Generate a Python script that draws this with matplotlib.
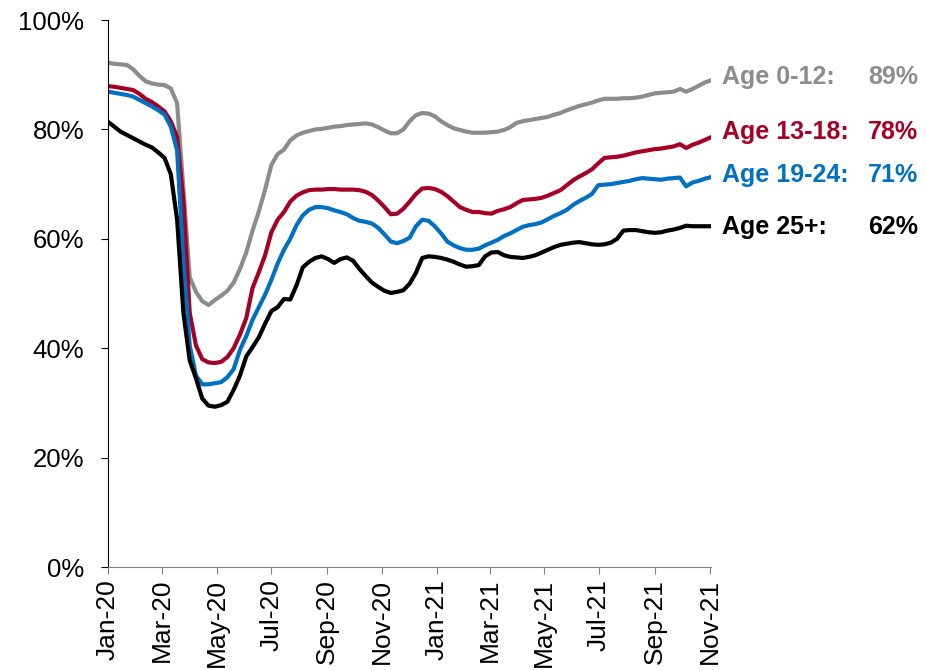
import matplotlib
matplotlib.use("Agg")
import matplotlib.pyplot as plt
import matplotlib.dates as mdates
import matplotlib.transforms as mtransforms
import pandas as pd

plt.rcParams['font.family'] = ['Liberation Sans', 'DejaVu Sans']

# weekly points, Jan 2020 - Nov 2021
dates = pd.date_range('2020-01-01', periods=97, freq='7D')

age_0_12 = [92.2, 92.0, 91.9, 91.8, 91.0, 89.8, 88.8, 88.4, 88.2, 88.1,
            87.5, 84.8, 69.0, 53.0, 50.3, 48.6, 47.9, 48.8, 49.6, 50.5,
            52.0, 54.5, 57.5, 61.5, 65.0, 69.0, 73.5, 75.5, 76.3, 78.0,
            78.9, 79.4, 79.7, 80.0, 80.1, 80.3, 80.5, 80.6, 80.8, 80.9,
            81.0, 81.1, 80.9, 80.4, 79.8, 79.3, 79.3, 80.0, 81.5, 82.6,
            83.0, 82.9, 82.4, 81.5, 80.8, 80.2, 79.9, 79.6, 79.4, 79.4,
            79.4, 79.5, 79.6, 79.9, 80.4, 81.2, 81.5, 81.7, 81.9, 82.1,
            82.3, 82.7, 83.0, 83.5, 83.9, 84.3, 84.6, 84.9, 85.3, 85.6,
            85.6, 85.6, 85.7, 85.7, 85.8, 86.0, 86.3, 86.6, 86.7, 86.8,
            86.9, 87.4, 86.9, 87.4, 88.0, 88.6, 89.0]

age_13_18 = [87.9, 87.8, 87.6, 87.4, 87.2, 86.5, 85.6, 85.0, 84.2, 83.3,
             81.5, 78.6, 67.0, 46.5, 40.5, 38.0, 37.4, 37.3, 37.5, 38.4,
             40.0, 42.5, 45.5, 51.0, 53.9, 57.0, 61.2, 63.5, 64.9, 66.8,
             67.9, 68.5, 68.9, 69.0, 69.0, 69.1, 69.1, 69.0, 69.0, 69.0,
             68.9, 68.6, 68.0, 67.0, 65.8, 64.5, 64.6, 65.5, 66.8, 68.2,
             69.2, 69.3, 69.1, 68.6, 67.8, 66.8, 65.8, 65.3, 64.9, 64.9,
             64.7, 64.6, 65.1, 65.4, 65.8, 66.5, 67.1, 67.2, 67.3, 67.5,
             67.9, 68.4, 68.9, 69.8, 70.7, 71.4, 72.0, 72.7, 73.8, 74.8,
             74.9, 75.0, 75.2, 75.5, 75.8, 76.0, 76.2, 76.4, 76.5, 76.7,
             76.9, 77.3, 76.6, 77.2, 77.6, 78.1, 78.6]

age_19_24 = [86.9, 86.7, 86.5, 86.3, 86.0, 85.4, 84.8, 84.2, 83.5, 82.7,
             80.5, 76.2, 56.0, 40.5, 35.0, 33.4, 33.4, 33.6, 33.8, 34.7,
             36.2, 39.7, 42.2, 45.2, 47.5, 49.8, 52.5, 55.5, 58.0, 60.0,
             62.5, 64.3, 65.3, 65.8, 65.8, 65.6, 65.2, 64.9, 64.5, 63.8,
             63.3, 63.1, 62.8, 62.0, 60.8, 59.5, 59.2, 59.6, 60.2, 62.3,
             63.5, 63.3, 62.3, 61.0, 59.5, 58.8, 58.3, 58.0, 58.0, 58.2,
             58.8, 59.3, 59.8, 60.5, 61.0, 61.6, 62.2, 62.5, 62.7, 63.0,
             63.6, 64.2, 64.7, 65.3, 66.2, 66.9, 67.5, 68.2, 69.8, 69.9,
             70.0, 70.2, 70.4, 70.6, 70.9, 71.1, 71.0, 70.9, 70.8, 71.0,
             71.1, 71.2, 69.6, 70.3, 70.6, 71.0, 71.3]

age_25_plus = [81.4, 80.5, 79.6, 79.0, 78.4, 77.8, 77.2, 76.7, 75.8, 74.8,
               71.8, 63.5, 46.5, 37.8, 34.5, 30.8, 29.5, 29.3, 29.6, 30.2,
               32.4, 35.0, 38.5, 40.2, 42.0, 44.5, 46.8, 47.5, 49.0, 48.9,
               51.5, 54.8, 55.8, 56.5, 56.8, 56.3, 55.6, 56.3, 56.6, 56.0,
               54.5, 53.2, 52.0, 51.2, 50.5, 50.1, 50.3, 50.6, 51.8, 53.8,
               56.5, 56.8, 56.7, 56.5, 56.2, 55.8, 55.3, 54.9, 55.0, 55.2,
               56.8, 57.5, 57.6, 57.0, 56.7, 56.6, 56.5, 56.7, 57.0, 57.5,
               58.0, 58.5, 58.9, 59.1, 59.3, 59.4, 59.2, 59.0, 58.9, 59.0,
               59.3, 60.0, 61.5, 61.6, 61.6, 61.4, 61.2, 61.1, 61.2, 61.5,
               61.7, 62.0, 62.4, 62.3, 62.3, 62.3, 62.3]

labels = ['Age 0-12:', 'Age 13-18:', 'Age 19-24:', 'Age 25+:']
end_values = ['89%', '78%', '71%', '62%']
label_y = [89.6, 79.5, 71.7, 62.2]
colors = ['#8C8C8C', '#A50026', '#0070C0', '#000000']

fig = plt.figure(figsize=(9.26, 6.7), dpi=100)
ax = fig.add_axes([0.1166, 0.1537, 0.6516, 0.8164])

for series, c in zip([age_0_12, age_13_18, age_19_24, age_25_plus], colors):
    ax.plot(dates, series, color=c, linewidth=3.0, solid_joinstyle='round')

ax.set_ylim(0, 100)
ax.set_yticks(range(0, 101, 20))
ax.set_yticklabels([f'{v}%' for v in range(0, 101, 20)])
ax.set_xlim(pd.Timestamp('2020-01-01'), pd.Timestamp('2021-11-03'))
ax.xaxis.set_major_locator(mdates.MonthLocator(bymonth=[1, 3, 5, 7, 9, 11]))
ax.xaxis.set_major_formatter(mdates.DateFormatter('%b-%y'))
ax.tick_params(axis='x', labelrotation=90, labelsize=19, length=5, color='#808080')
ax.tick_params(axis='y', labelsize=18.5, length=5, pad=12)

ax.spines['top'].set_visible(False)
ax.spines['right'].set_visible(False)
ax.spines['bottom'].set_color('#808080')

# labels at the right end of each line
trans = mtransforms.blended_transform_factory(ax.transAxes, ax.transData)
for lab, val, y, c in zip(labels, end_values, label_y, colors):
    ax.text(1.018, y, lab, transform=trans, color=c, fontsize=18,
            fontweight='bold', ha='left', va='center')
    ax.text(1.343, y, val, transform=trans, color=c, fontsize=18,
            fontweight='bold', ha='right', va='center')

fig.savefig('out.png', dpi=100)
